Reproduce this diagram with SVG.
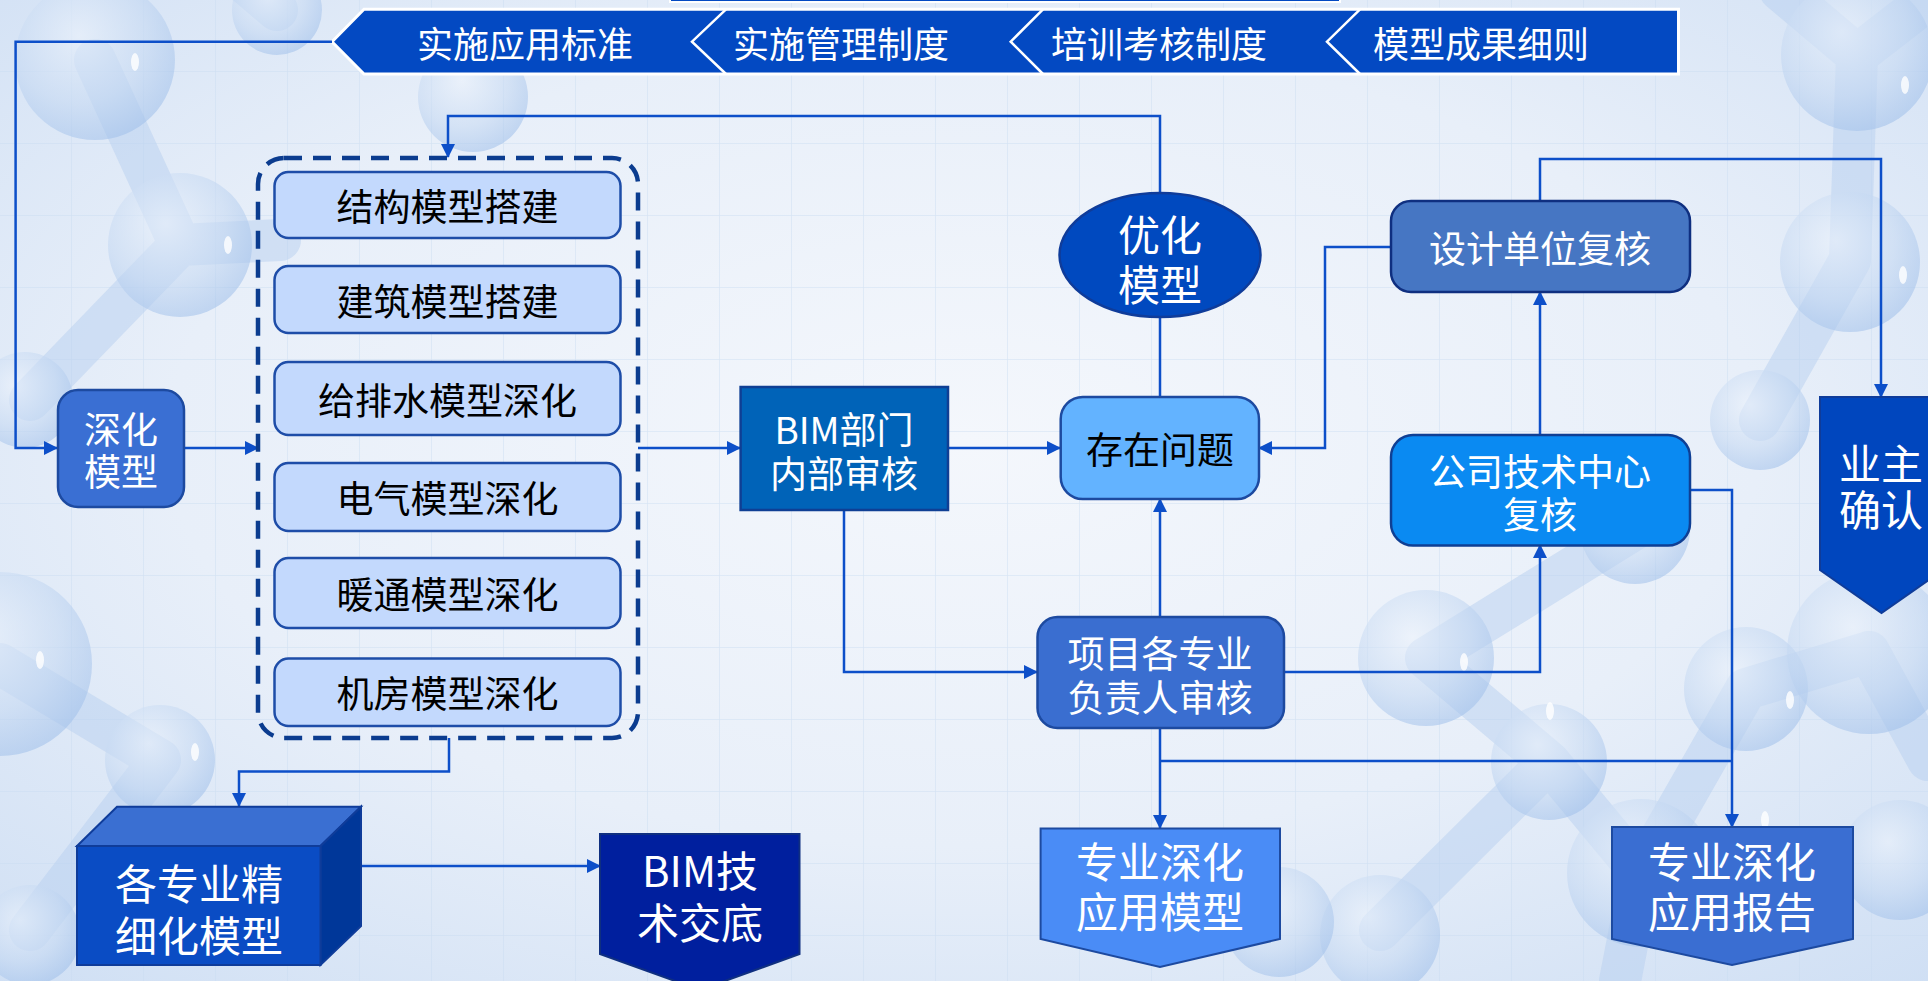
<svg xmlns="http://www.w3.org/2000/svg" width="1928" height="981" viewBox="0 0 1928 981">
  <defs>
    <radialGradient id="bg" cx="0.5" cy="0.45" r="0.75">
      <stop offset="0" stop-color="#f4f7fc"/>
      <stop offset="0.55" stop-color="#e8eff9"/>
      <stop offset="1" stop-color="#cfdff4"/>
    </radialGradient>
    <pattern id="grid" width="72" height="72" patternUnits="userSpaceOnUse">
      <path d="M72 0 V72 M0 72 H72" stroke="#c6d8ef" stroke-width="1.5" fill="none" opacity="0.55"/>
    </pattern>
    <radialGradient id="ball" cx="0.4" cy="0.35" r="0.7">
      <stop offset="0" stop-color="#eef4fc"/>
      <stop offset="0.6" stop-color="#c4d8f2"/>
      <stop offset="1" stop-color="#9cbde9"/>
    </radialGradient>
    <marker id="arr" markerWidth="14" markerHeight="14" refX="13" refY="7" orient="auto" markerUnits="userSpaceOnUse">
      <path d="M0,0 L14,7 L0,14 z" fill="#0d4fc9"/>
    </marker>
    <style>
      text { font-family: "Noto Sans CJK SC", "Microsoft YaHei", sans-serif; text-anchor: middle; dominant-baseline: central; }
      .w { fill: #ffffff; }
      .k { fill: #000000; }
      .f36 { font-size: 36px; }
      .f37 { font-size: 37px; }
      .f42 { font-size: 42px; }
      .lite { fill: #c3d9fd; stroke: #1e4da8; stroke-width: 2.5; }
      .edge { fill: none; stroke: #0d4fc9; stroke-width: 2.5; }
      .stick { stroke: #b7cfef; stroke-width: 42; stroke-linecap: round; opacity: 0.5; fill: none; }
      .atom { fill: url(#ball); opacity: 0.55; }
      .hl { fill: #ffffff; opacity: 0.8; }
    </style>
  </defs>

  <!-- backdrop: soft gradient, grid and molecule decoration -->
  <rect width="1928" height="981" fill="url(#bg)"/>
  <rect width="1928" height="981" fill="url(#grid)"/>
  <g id="molecules">
    <path class="stick" d="M95 60 L180 245 M180 245 L30 400 M180 245 L280 240 M277 10 L230 -30 M0 664 L160 760 M160 760 L30 930"/>
    <path class="stick" d="M1857 55 L1780 -10 M1857 55 L1928 0 M1857 55 L1850 260 M1850 260 L1760 420 M1635 529 L1426 658 M1426 658 L1549 762 M1549 762 L1641 873 M1641 873 L1746 689 M1746 689 L1869 652 M1549 762 L1380 930 M1641 873 L1620 981 M1869 652 L1928 760"/>
    <circle class="atom" cx="95" cy="60" r="80"/>
    <circle class="atom" cx="180" cy="245" r="72"/>
    <circle class="atom" cx="277" cy="10" r="45"/>
    <circle class="atom" cx="473" cy="97" r="55"/>
    <circle class="atom" cx="25" cy="400" r="48"/>
    <circle class="atom" cx="0" cy="664" r="92"/>
    <circle class="atom" cx="160" cy="760" r="55"/>
    <circle class="atom" cx="30" cy="935" r="50"/>
    <circle class="atom" cx="1857" cy="55" r="76"/>
    <circle class="atom" cx="1850" cy="262" r="70"/>
    <circle class="atom" cx="1760" cy="420" r="50"/>
    <circle class="atom" cx="1635" cy="529" r="55"/>
    <circle class="atom" cx="1426" cy="658" r="68"/>
    <circle class="atom" cx="1549" cy="762" r="58"/>
    <circle class="atom" cx="1746" cy="689" r="62"/>
    <circle class="atom" cx="1869" cy="652" r="82"/>
    <circle class="atom" cx="1641" cy="873" r="74"/>
    <circle class="atom" cx="1380" cy="935" r="60"/>
    <circle class="atom" cx="1279" cy="922" r="55"/>
    <circle class="atom" cx="1900" cy="860" r="60"/>
    <ellipse class="hl" cx="135" cy="62" rx="4" ry="9"/>
    <ellipse class="hl" cx="228" cy="245" rx="4" ry="9"/>
    <ellipse class="hl" cx="40" cy="660" rx="4" ry="9"/>
    <ellipse class="hl" cx="195" cy="752" rx="4" ry="9"/>
    <ellipse class="hl" cx="1905" cy="85" rx="4" ry="9"/>
    <ellipse class="hl" cx="1903" cy="275" rx="4" ry="9"/>
    <ellipse class="hl" cx="1464" cy="662" rx="4" ry="9"/>
    <ellipse class="hl" cx="1790" cy="700" rx="4" ry="9"/>
    <ellipse class="hl" cx="1550" cy="711" rx="4" ry="9"/>
    <ellipse class="hl" cx="1765" cy="820" rx="4" ry="9"/>
  </g>

  <!-- top strip edge and standards banner -->
  <g id="banner">
    <rect x="670" y="-20" width="670" height="22" fill="#0349c2" stroke="#ffffff" stroke-width="2"/>
    <polygon points="332,41.7 364,9.3 1678.5,9.3 1678.5,74 364,74" fill="#0349c2" stroke="#ffffff" stroke-width="3"/>
    <polyline points="726,9.3 692,41.7 726,74" fill="none" stroke="#ffffff" stroke-width="2.5"/>
    <polyline points="1043,9.3 1010.7,41.7 1043,74" fill="none" stroke="#ffffff" stroke-width="2.5"/>
    <polyline points="1360,9.3 1327,41.7 1360,74" fill="none" stroke="#ffffff" stroke-width="2.5"/>
    <text class="w f36" x="525" y="42">实施应用标准</text>
    <text class="w f36" x="841" y="42">实施管理制度</text>
    <text class="w f36" x="1159" y="42">培训考核制度</text>
    <text class="w f36" x="1481" y="42">模型成果细则</text>
  </g>

  <!-- connectors -->
  <g id="connectors">
    <polyline class="edge" points="332,41.7 15.6,41.7 15.6,448 57,448" marker-end="url(#arr)"/>
    <line class="edge" x1="184" y1="448" x2="258" y2="448" marker-end="url(#arr)"/>
    <line class="edge" x1="638" y1="448" x2="740" y2="448" marker-end="url(#arr)"/>
    <line class="edge" x1="948" y1="448" x2="1060" y2="448" marker-end="url(#arr)"/>
    <polyline class="edge" points="1160,193 1160,116 448,116 448,157" marker-end="url(#arr)"/>
    <line class="edge" x1="1160" y1="317" x2="1160" y2="397"/>
    <polyline class="edge" points="1391,247 1325,247 1325,448 1259,448" marker-end="url(#arr)"/>
    <polyline class="edge" points="1540,201 1540,159 1881,159 1881,397" marker-end="url(#arr)"/>
    <line class="edge" x1="1540" y1="435" x2="1540" y2="292" marker-end="url(#arr)"/>
    <polyline class="edge" points="1284,672 1540,672 1540,545" marker-end="url(#arr)"/>
    <polyline class="edge" points="1690,490 1732,490 1732,827" marker-end="url(#arr)"/>
    <line class="edge" x1="1160" y1="728" x2="1160" y2="828" marker-end="url(#arr)"/>
    <line class="edge" x1="1160" y1="761" x2="1732" y2="761"/>
    <polyline class="edge" points="844,510 844,672 1037,672" marker-end="url(#arr)"/>
    <line class="edge" x1="1160" y1="617" x2="1160" y2="499" marker-end="url(#arr)"/>
    <polyline class="edge" points="449,738 449,771.5 239,771.5 239,806" marker-end="url(#arr)"/>
    <line class="edge" x1="361" y1="866" x2="600" y2="866" marker-end="url(#arr)"/>
  </g>

  <g id="deepen-model">
    <rect x="58" y="390" width="126" height="117" rx="20" fill="#3a6fd3" stroke="#1d4aa0" stroke-width="2.5"/>
    <text class="w f37"><tspan x="121" y="428">深化</tspan><tspan x="121" y="470">模型</tspan></text>
  </g>

  <g id="discipline-group">
    <rect x="258" y="158" width="380" height="580" rx="26" fill="none" stroke="#0b3c8f" stroke-width="4.5" stroke-dasharray="18 11"/>
  </g>
  <g id="structure">
    <rect class="lite" x="274.5" y="172" width="346" height="66" rx="14"/>
    <text class="k f37" x="447.5" y="205">结构模型搭建</text>
  </g>
  <g id="architecture">
    <rect class="lite" x="274.5" y="266" width="346" height="67" rx="14"/>
    <text class="k f37" x="447.5" y="299.5">建筑模型搭建</text>
  </g>
  <g id="plumbing">
    <rect class="lite" x="274.5" y="362" width="346" height="73" rx="14"/>
    <text class="k f37" x="447.5" y="398.5">给排水模型深化</text>
  </g>
  <g id="electrical">
    <rect class="lite" x="274.5" y="463" width="346" height="68" rx="14"/>
    <text class="k f37" x="447.5" y="497">电气模型深化</text>
  </g>
  <g id="hvac">
    <rect class="lite" x="274.5" y="558" width="346" height="70" rx="14"/>
    <text class="k f37" x="447.5" y="593">暖通模型深化</text>
  </g>
  <g id="plant-room">
    <rect class="lite" x="274.5" y="658.5" width="346" height="67.5" rx="14"/>
    <text class="k f37" x="447.5" y="692">机房模型深化</text>
  </g>

  <g id="bim-review">
    <rect x="740.6" y="387" width="207.4" height="123" fill="#0063b8" stroke="#0f3f94" stroke-width="2.5"/>
    <text class="w f37"><tspan x="844" y="428">BIM部门</tspan><tspan x="844" y="472">内部审核</tspan></text>
  </g>

  <g id="issues">
    <rect x="1060.7" y="397" width="198.3" height="102" rx="22" fill="#63b3ff" stroke="#1d4aa0" stroke-width="2.5"/>
    <text class="k f37" x="1160" y="448">存在问题</text>
  </g>

  <g id="optimize">
    <ellipse cx="1160" cy="255" rx="100.5" ry="62" fill="#0049bf" stroke="#0f3c9a" stroke-width="2.5"/>
    <text class="w f42"><tspan x="1160" y="232">优化</tspan><tspan x="1160" y="282">模型</tspan></text>
  </g>

  <g id="lead-review">
    <rect x="1037.5" y="617" width="246.5" height="111" rx="20" fill="#3a6ed0" stroke="#1d4aa0" stroke-width="2.5"/>
    <text class="w f37"><tspan x="1160" y="652">项目各专业</tspan><tspan x="1160" y="696">负责人审核</tspan></text>
  </g>

  <g id="designer-review">
    <rect x="1391" y="201" width="299" height="91" rx="20" fill="#4676c3" stroke="#0f2f80" stroke-width="2.5"/>
    <text class="w f37" x="1540" y="247">设计单位复核</text>
  </g>

  <g id="tech-center-review">
    <rect x="1391" y="435" width="299" height="110.6" rx="22" fill="#0a8af2" stroke="#0f3f94" stroke-width="2.5"/>
    <text class="w f37"><tspan x="1540" y="470">公司技术中心</tspan><tspan x="1540" y="513">复核</tspan></text>
  </g>

  <g id="owner-confirm">
    <polygon points="1820,397 1943,397 1943,570 1881.5,613 1820,570" fill="#0046be" stroke="#0f3c9a" stroke-width="2"/>
    <text class="w f42"><tspan x="1881" y="461">业主</tspan><tspan x="1881" y="507">确认</tspan></text>
  </g>

  <g id="applied-model">
    <polygon points="1040.6,828.5 1280,828.5 1280,939 1160,967 1040.6,939" fill="#4a8cf6" stroke="#1d4aa0" stroke-width="2"/>
    <text class="w f42"><tspan x="1160" y="859">专业深化</tspan><tspan x="1160" y="909">应用模型</tspan></text>
  </g>

  <g id="applied-report">
    <polygon points="1612,827 1853,827 1853,939 1732,965 1612,939" fill="#3a6ed2" stroke="#1d4aa0" stroke-width="2"/>
    <text class="w f42"><tspan x="1732" y="859">专业深化</tspan><tspan x="1732" y="909">应用报告</tspan></text>
  </g>

  <g id="refined-models">
    <polygon points="77,846 117,806.7 361,806.7 320.5,846" fill="#3a6fd2" stroke="#0f3c9a" stroke-width="2"/>
    <polygon points="320.5,846 361,806.7 361,926 320.5,965" fill="#003799" stroke="#0f3c9a" stroke-width="2"/>
    <rect x="77" y="846" width="243.5" height="119" fill="#0a4cc4" stroke="#0f3c9a" stroke-width="2"/>
    <text class="w f42"><tspan x="199" y="881">各专业精</tspan><tspan x="199" y="933">细化模型</tspan></text>
  </g>

  <g id="tech-briefing">
    <polygon points="600,834 799.5,834 799.5,954 700,990 600,954" fill="#001f9e" stroke="#0f2f80" stroke-width="2"/>
    <text class="w f42"><tspan x="700" y="868">BIM技</tspan><tspan x="700" y="920">术交底</tspan></text>
  </g>
</svg>
